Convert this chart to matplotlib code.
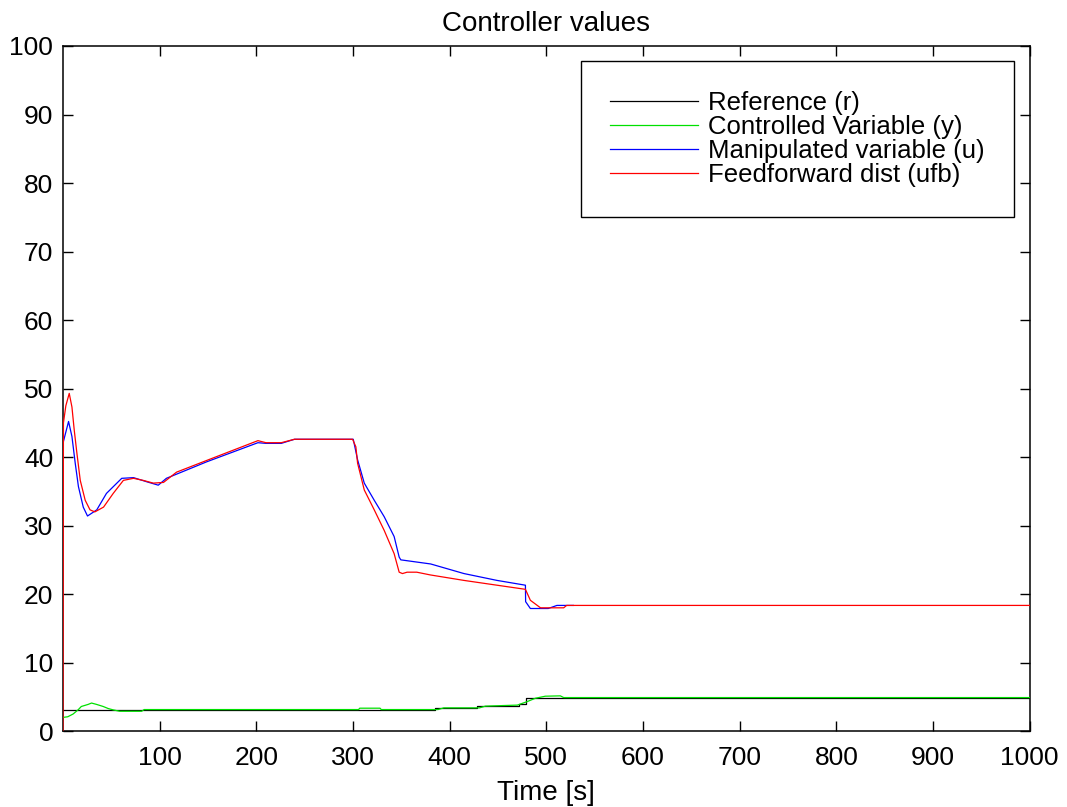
import matplotlib
matplotlib.use("Agg")
import matplotlib.pyplot as plt
from matplotlib import rcParams

rcParams['font.family'] = ['Liberation Sans', 'DejaVu Sans']

# reference r (piecewise constant)
t_r = [0, 384.6, 428, 471.5, 479, 1000]
r = [3.15, 3.4, 3.65, 4.0, 4.9, 4.9]

# controlled variable y
t_y = [0, 5, 10.5, 15.6, 19, 26, 29.6, 34.8, 41.6, 46.8, 52, 58.8, 70.9, 81.4, 84,
       305.8, 307, 328, 329.3, 388, 394, 431, 437, 470, 480, 488.7, 499, 514.5, 518, 1000]
y = [2.0, 2.1, 2.5, 3.1, 3.6, 3.9, 4.1, 3.9, 3.6, 3.3, 3.1, 2.9, 2.9, 2.9, 3.15,
     3.15, 3.35, 3.35, 3.15, 3.15, 3.4, 3.4, 3.65, 3.8, 4.3, 4.8, 5.1, 5.15, 4.9, 4.9]

# manipulated variable u (hidden under ufb after ~520 s)
t_u = [0, 5.8, 9.3, 12.7, 16, 21, 25.4, 35, 45, 60.8, 73, 86.6, 98.6, 107, 148.5,
       201.7, 210, 225.8, 239.5, 300.3, 304.8, 311.7, 322, 332.3, 342.6, 347.8, 349.5,
       380.4, 414.8, 449, 478.4, 478.6, 483.5, 502, 511, 528]
u = [42, 45.2, 43, 39.1, 35.7, 32.7, 31.4, 32.3, 34.7, 36.9, 37.0, 36.4, 35.9, 36.9, 39.3,
     42.1, 42.0, 42.0, 42.6, 42.6, 39.6, 36.2, 33.7, 31.3, 28.4, 25.4, 25.0,
     24.4, 23.0, 22.0, 21.3, 18.9, 17.9, 17.9, 18.35, 18.35]

# feedforward dist ufb
t_ufb = [0, 0.5, 3, 6.5, 9.3, 11.7, 14.4, 17.9, 23, 28, 33, 42, 52, 62.5, 73, 83, 93.5,
         104, 117.5, 148.5, 201.7, 210, 225.8, 239.5, 299.6, 303, 304.8, 311.7, 322,
         332.3, 342.6, 347.8, 351.2, 356, 366, 380, 414.8, 449, 478.4, 483.5, 494, 518,
         521, 1000]
ufb = [0, 45, 47.5, 49.3, 47.3, 43.9, 40.6, 36.6, 33.7, 32.3, 32.0, 32.7, 34.7, 36.6,
       36.9, 36.6, 36.2, 36.3, 37.8, 39.5, 42.4, 42.1, 42.1, 42.6, 42.6, 41.5, 39.1,
       35.2, 32.3, 29.3, 25.9, 23.2, 23.0, 23.2, 23.2, 22.8, 22.0, 21.3, 20.7, 19.1,
       18.0, 18.0, 18.35, 18.35]

tick_size = 19
text_size = 20
legend_size = 18.5
lw = 0.9

fig, ax = plt.subplots(figsize=(10.67, 8.07), dpi=100)
plt.subplots_adjust(left=0.059, right=0.965, top=0.943, bottom=0.094)

ax.plot(t_r, r, color='k', lw=lw, drawstyle='steps-post', label='Reference (r)', zorder=3)
ax.plot(t_y, y, color='#00e000', lw=lw, label='Controlled Variable (y)', zorder=3)
ax.plot(t_u, u, color='#0000ff', lw=lw, label='Manipulated variable (u)', zorder=3)
ax.plot(t_ufb, ufb, color='#ff0000', lw=lw, label='Feedforward dist (ufb)', zorder=3)

ax.set_xlim(0, 1000)
ax.set_ylim(0, 100)
ax.set_xticks(range(100, 1001, 100))
ax.set_yticks(range(0, 101, 10))
ax.tick_params(direction='in', length=7, width=1, top=True, right=True,
               labelsize=tick_size)
ax.tick_params(axis='x', pad=11)
ax.tick_params(axis='y', pad=7)
for s in ax.spines.values():
    s.set_linewidth(1.1)

ax.set_title('Controller values', fontsize=text_size, pad=11)
ax.set_xlabel('Time [s]', fontsize=text_size, labelpad=7)

leg = ax.legend(loc='upper right', fontsize=legend_size, fancybox=False, framealpha=1,
                edgecolor='k', handlelength=3.4, handletextpad=0.4, labelspacing=0.0,
                borderpad=1.15, borderaxespad=0.6)
leg.get_frame().set_linewidth(1)

plt.savefig('out.png', dpi=100)
